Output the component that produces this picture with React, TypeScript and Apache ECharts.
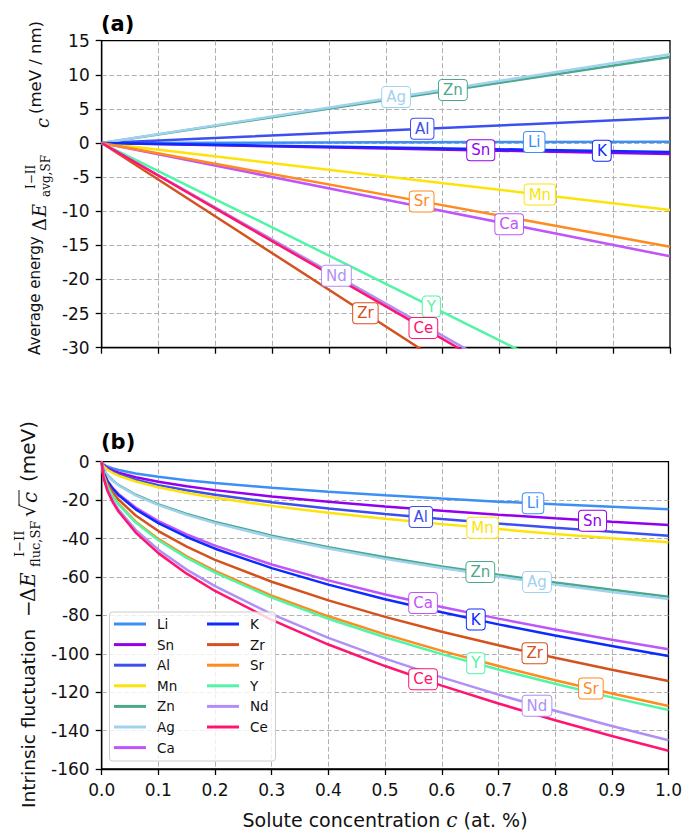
import React, { useEffect, useRef } from 'react';
import * as echarts from 'echarts';

const names = ['Li', 'Sn', 'Al', 'Mn', 'Zn', 'Ag', 'Ca', 'K', 'Zr', 'Sr', 'Y', 'Nd', 'Ce'];
const colors = ['#3b8ff5', '#9400ee', '#3c4ff0', '#fde30a', '#4aa98a', '#a0d2f0', '#c055fa', '#0d2bff', '#d4521e', '#ff8a1f', '#50f5a5', '#b08ff7', '#ff1470'];

// (a) average energy, x = solute concentration
const xTop = [0, 0.25, 0.5, 0.75, 1.0];
const avgLi = [0, 0.05, 0.1, 0.15, 0.2];
const avgSn = [0, -0.4, -0.8, -1.2, -1.6];
const avgAl = [0, 0.92, 1.85, 2.77, 3.7];
const avgMn = [0, -2.45, -4.9, -7.35, -9.8];
const avgZn = [0, 3.15, 6.3, 9.45, 12.6];
const avgAg = [0, 3.25, 6.5, 9.75, 13.0];
const avgCa = [0, -4.15, -8.3, -12.45, -16.6];
const avgK = [0, -0.32, -0.65, -0.97, -1.3];
const avgZr = [0, -13.45, -26.9, -40.35, -53.8];
const avgSr = [0, -3.8, -7.6, -11.4, -15.2];
const avgY = [0, -10.3, -20.65, -31.0, -41.3];
const avgNd = [0, -11.8, -23.55, -35.3, -47.1];
const avgCe = [0, -12.0, -23.95, -35.9, -47.9];
const labelXTop = [0.761, 0.667, 0.564, 0.771, 0.618, 0.518, 0.717, 0.88, 0.464, 0.563, 0.58, 0.413, 0.566];

// (b) intrinsic fluctuation
const xBot = [0, 0.003, 0.01, 0.02, 0.03, 0.06, 0.1, 0.15, 0.2, 0.3, 0.4, 0.5, 0.6, 0.7, 0.8, 0.9, 1.0];
const flucLi = [0, -1.4, -2.5, -3.5, -4.3, -6.1, -7.8, -9.6, -11.1, -13.6, -15.7, -17.5, -19.2, -20.8, -22.2, -23.5, -24.8];
const flucSn = [0, -1.8, -3.3, -4.7, -5.7, -8.1, -10.4, -12.8, -14.8, -18.1, -20.9, -23.3, -25.6, -27.6, -29.5, -31.3, -33.0];
const flucAl = [0, -2.1, -3.9, -5.4, -6.7, -9.4, -12.2, -14.9, -17.2, -21.1, -24.4, -27.2, -29.8, -32.2, -34.4, -36.5, -38.5];
const flucMn = [0, -2.3, -4.2, -5.9, -7.3, -10.3, -13.3, -16.3, -18.8, -23.0, -26.6, -29.7, -32.5, -35.1, -37.6, -39.8, -42.0];
const flucZn = [0, -3.9, -7.0, -9.9, -12.2, -17.2, -22.2, -27.2, -31.4, -38.5, -44.5, -49.7, -54.5, -58.8, -62.9, -66.7, -70.3];
const flucAg = [0, -3.9, -7.2, -10.1, -12.4, -17.5, -22.6, -27.7, -32.0, -39.2, -45.2, -50.6, -55.4, -59.8, -64.0, -67.8, -71.5];
const flucCa = [0, -5.4, -9.8, -13.8, -16.9, -23.9, -30.9, -37.8, -43.7, -53.5, -61.8, -69.1, -75.7, -81.7, -87.4, -92.7, -97.7];
const flucK = [0, -5.5, -10.1, -14.3, -17.5, -24.8, -32.0, -39.2, -45.3, -55.4, -64.0, -71.6, -78.4, -84.7, -90.5, -96.0, -101.2];
const flucZr = [0, -6.3, -11.4, -16.2, -19.8, -28.0, -36.1, -44.2, -51.1, -62.5, -72.2, -80.8, -88.5, -95.6, -102.1, -108.3, -114.2];
const flucSr = [0, -7.0, -12.7, -18.0, -22.0, -31.2, -40.2, -49.3, -56.9, -69.7, -80.5, -89.9, -98.5, -106.4, -113.8, -120.7, -127.2];
const flucY = [0, -7.1, -12.9, -18.3, -22.4, -31.7, -40.9, -50.1, -57.8, -70.8, -81.8, -91.4, -100.2, -108.2, -115.6, -122.7, -129.3];
const flucNd = [0, -7.9, -14.5, -20.5, -25.1, -35.5, -45.8, -56.2, -64.8, -79.4, -91.7, -102.5, -112.3, -121.3, -129.7, -137.6, -145.0];
const flucCe = [0, -8.2, -15.1, -21.3, -26.1, -36.9, -47.6, -58.3, -67.3, -82.4, -95.2, -106.4, -116.6, -125.9, -134.6, -142.8, -150.5];
const labelXBot = [0.761, 0.866, 0.563, 0.672, 0.668, 0.768, 0.567, 0.66, 0.764, 0.863, 0.66, 0.768, 0.567];

const avgAll = [avgLi, avgSn, avgAl, avgMn, avgZn, avgAg, avgCa, avgK, avgZr, avgSr, avgY, avgNd, avgCe];
const flucAll = [flucLi, flucSn, flucAl, flucMn, flucZn, flucAg, flucCa, flucK, flucZr, flucSr, flucY, flucNd, flucCe];

function interp(xs: number[], ys: number[], x: number): number {
  for (let i = 0; i < xs.length - 1; i++) {
    if (x >= xs[i] && x <= xs[i + 1]) {
      const t = (x - xs[i]) / (xs[i + 1] - xs[i]);
      return ys[i] + t * (ys[i + 1] - ys[i]);
    }
  }
  return ys[ys.length - 1];
}

const SANS = '"DejaVu Sans", sans-serif';
const SERIF = '"DejaVu Serif", serif';
const TICK_FS = 17;
const TXT = '#111';

function makeSeries(panel: number, xs: number[], all: number[][], labelX: number[]) {
  return names.map((n, i) => ({
    type: 'line',
    name: n,
    xAxisIndex: panel,
    yAxisIndex: panel,
    data: xs.map((x, j) => [x, all[i][j]]),
    showSymbol: false,
    symbol: 'none',
    smooth: false,
    clip: true,
    silent: true,
    lineStyle: { width: 2.5, color: colors[i] },
    itemStyle: { color: colors[i] },
    markPoint: {
      symbol: 'circle',
      symbolSize: 0,
      silent: true,
      animation: false,
      label: {
        show: true,
        position: 'inside',
        formatter: n,
        fontFamily: SANS,
        fontSize: 15,
        lineHeight: 15,
        color: colors[i],
        backgroundColor: '#ffffff',
        borderColor: colors[i],
        borderWidth: 1,
        borderRadius: 3,
        padding: [3, 4, 2, 4],
      },
      data: [{ coord: [labelX[i], interp(xs, all[i], labelX[i])] }],
    },
  }));
}

type Piece = { t?: string; x: number; y: number; f?: string; line?: number[] };

function titleGroup(x0: number, y0: number, pieces: Piece[]) {
  return {
    type: 'group',
    x: x0,
    y: y0,
    rotation: Math.PI / 2,
    children: pieces.map((p) =>
      p.line
        ? {
            type: 'line',
            shape: { x1: p.line[0], y1: p.line[1], x2: p.line[2], y2: p.line[3] },
            style: { stroke: TXT, lineWidth: 1 },
          }
        : {
            type: 'text',
            x: p.x,
            y: p.y,
            style: {
              text: p.t,
              font: p.f,
              fill: TXT,
              align: 'left',
              verticalAlign: 'middle',
              textAlign: 'left',
              textVerticalAlign: 'middle',
            },
          }
    ),
  };
}

function axisCommon() {
  return {
    axisLine: { show: true, onZero: false, lineStyle: { color: '#000', width: 1.3 } },
    axisTick: { show: true, inside: false, length: 6, lineStyle: { color: '#000', width: 1.3 } },
    splitLine: { show: true, showMinLine: false, showMaxLine: false, lineStyle: { color: '#b0b0b0', width: 1, type: [5, 2.5] } },
    axisLabel: { fontFamily: SANS, fontSize: TICK_FS, color: TXT, margin: 12 },
  };
}

export default function App() {
  const ref = useRef<HTMLDivElement>(null);
  useEffect(() => {
    if (!ref.current) return;
    const chart = echarts.init(ref.current, undefined, { renderer: 'svg' });
    const gridA = { left: 101.7, top: 40.7, width: 568.3, height: 307 };
    const gridB = { left: 101.7, top: 461.7, width: 568.3, height: 307.3 };
    const legendCommon = {
      orient: 'vertical',
      icon: 'rect',
      padding: 0,
      itemWidth: 32,
      itemHeight: 3,
      itemGap: 6.6,
      selectedMode: false,
      textStyle: { fontFamily: SANS, fontSize: 13.5, color: TXT, padding: [0, 0, 0, 6], lineHeight: 14 },
      z: 6,
    };
    const mid = { align: 'left', verticalAlign: 'middle', textAlign: 'left', textVerticalAlign: 'middle' };
    const option = {
      animation: false,
      backgroundColor: '#ffffff',
      grid: [
        { ...gridA, show: true, borderColor: '#000', borderWidth: 1.3, backgroundColor: 'transparent' },
        { ...gridB, show: true, borderColor: '#000', borderWidth: 1.3, backgroundColor: 'transparent' },
      ],
      xAxis: [
        { type: 'value', gridIndex: 0, min: 0, max: 1, interval: 0.1, ...axisCommon(), axisLabel: { show: false } },
        {
          type: 'value', gridIndex: 1, min: 0, max: 1, interval: 0.1, ...axisCommon(),
          axisLabel: { fontFamily: SANS, fontSize: TICK_FS, color: TXT, margin: 12, formatter: (v: number) => v.toFixed(1) },
        },
      ],
      yAxis: [
        { type: 'value', gridIndex: 0, min: -30, max: 15, interval: 5, ...axisCommon() },
        { type: 'value', gridIndex: 1, min: -160, max: 0, interval: 20, ...axisCommon() },
      ],
      legend: [
        { ...legendCommon, left: 114, top: 617, data: names.slice(0, 7) },
        { ...legendCommon, left: 207, top: 617, data: names.slice(7) },
      ],
      graphic: [
        {
          type: 'rect',
          z: 5,
          shape: { x: 109.5, y: 612, width: 166, height: 149, r: 3 },
          style: { fill: 'rgba(255,255,255,0.8)', stroke: '#cccccc', lineWidth: 1 },
        },
        { type: 'text', x: 101, y: 24, style: { text: '(a)', font: `bold 21px ${SANS}`, fill: '#000', ...mid } },
        { type: 'text', x: 101, y: 442, style: { text: '(b)', font: `bold 21px ${SANS}`, fill: '#000', ...mid } },
        {
          type: 'text', x: 385, y: 820,
          style: {
            text: 'Solute concentration {i|c} (at. %)',
            font: `19px ${SANS}`,
            fill: TXT,
            align: 'center', verticalAlign: 'middle', textAlign: 'center', textVerticalAlign: 'middle',
            rich: { i: { fontStyle: 'italic', fontFamily: SERIF, fontSize: 20, fill: TXT } },
          },
        },
        titleGroup(35, 355, [
          { t: 'Average energy', x: 0, y: 0, f: `15px ${SANS}` },
          { t: 'Δ', x: 124, y: 4, f: `18px ${SERIF}` },
          { t: 'E', x: 138, y: 4, f: `italic 18px ${SERIF}` },
          { t: 'I−II', x: 166, y: -4, f: `12px ${SERIF}` },
          { t: 'avg,SF', x: 158, y: 11, f: `12px ${SERIF}` },
          { t: 'c', x: 227, y: 7, f: `italic 18px ${SERIF}` },
          { t: '(meV / nm)', x: 241, y: 0, f: `16.5px ${SANS}` },
        ]),
        titleGroup(28, 808, [
          { t: 'Intrinsic fluctuation', x: 0, y: 0, f: `18.5px ${SANS}` },
          { t: '−', x: 191, y: 0, f: `20px ${SERIF}` },
          { t: 'Δ', x: 206, y: 0, f: `20px ${SERIF}` },
          { t: 'E', x: 221, y: 0, f: `italic 20px ${SERIF}` },
          { t: 'I−II', x: 251, y: -9, f: `13px ${SERIF}` },
          { t: 'fluc,SF', x: 241, y: 7, f: `13px ${SERIF}` },
          { t: '√', x: 291, y: 0, f: `20px ${SERIF}` },
          { x: 0, y: 0, line: [302, -9, 318, -9] },
          { t: 'c', x: 305, y: 2, f: `italic 20px ${SERIF}` },
          { t: '(meV)', x: 326, y: 0, f: `20px ${SANS}` },
        ]),
      ],
      series: [
        ...makeSeries(0, xTop, avgAll, labelXTop),
        ...makeSeries(1, xBot, flucAll, labelXBot),
      ],
    };
    chart.setOption(option as any);
    return () => chart.dispose();
  }, []);
  return <div ref={ref} style={{ position: 'absolute', left: 0, top: 0, width: 685, height: 833 }} />;
}
